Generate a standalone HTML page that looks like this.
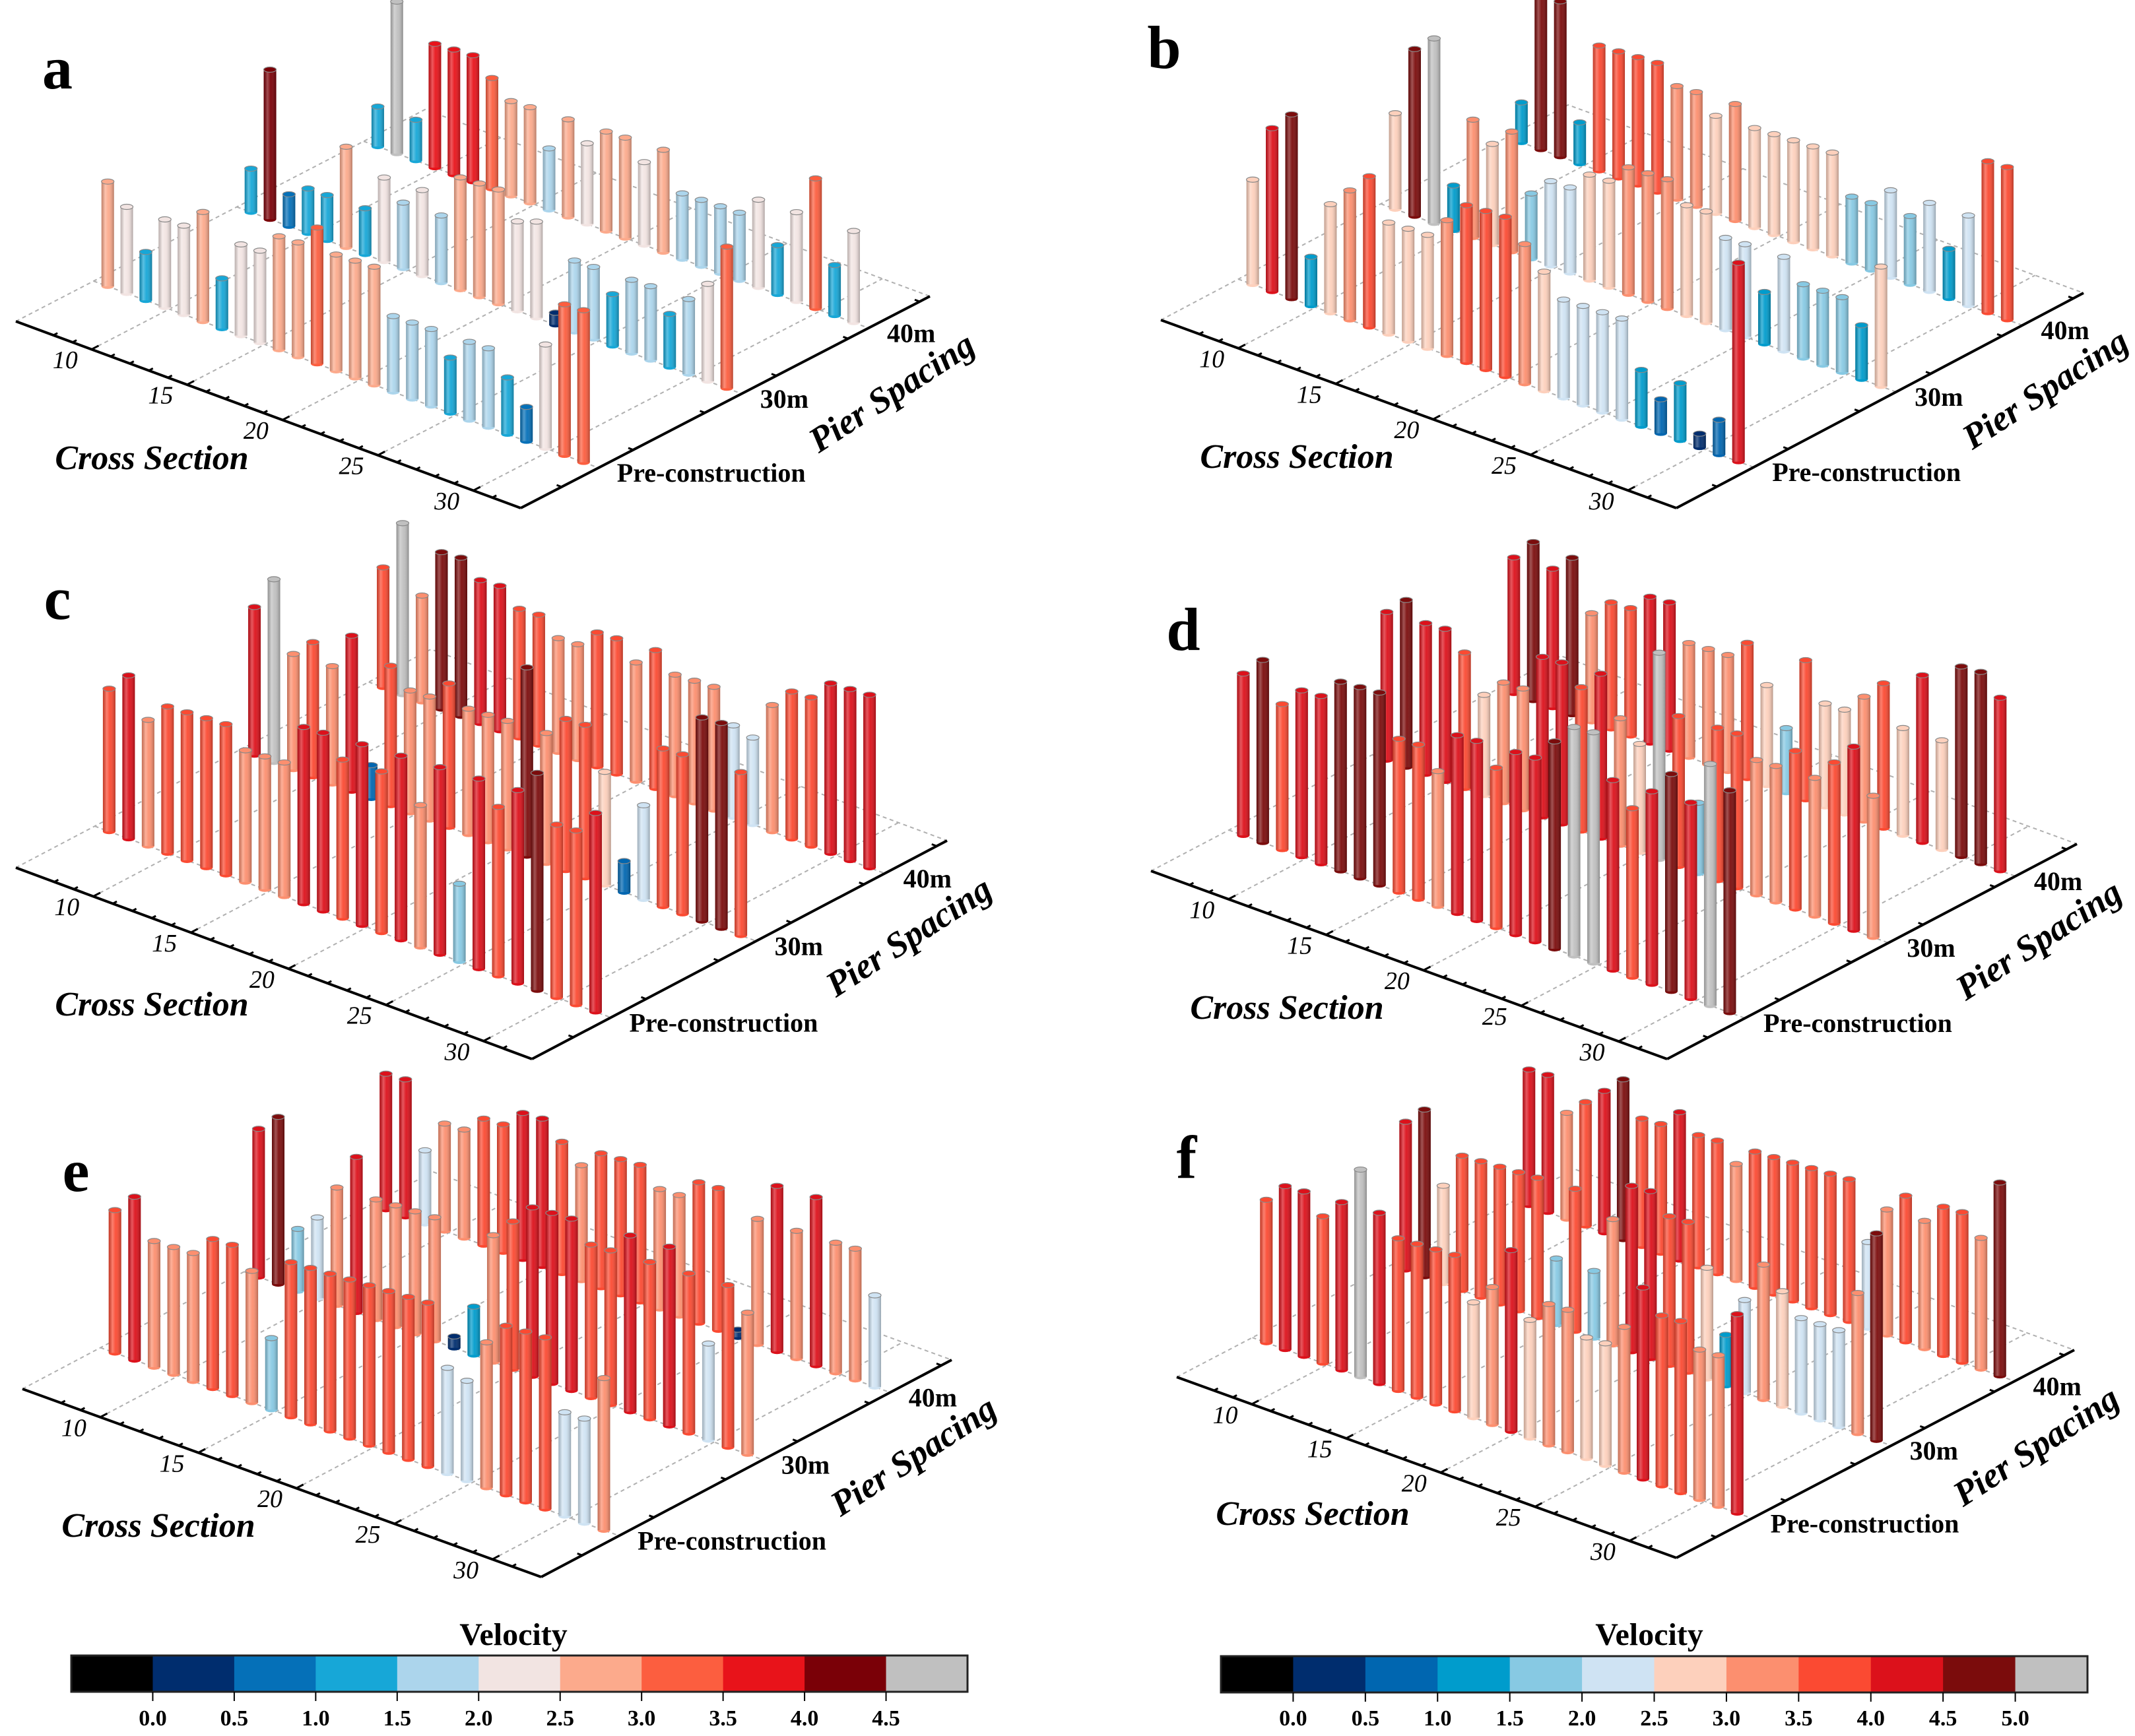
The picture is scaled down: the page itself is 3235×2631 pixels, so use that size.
<!DOCTYPE html>
<html><head><meta charset="utf-8">
<style>
html,body{margin:0;padding:0;background:#fff;}
svg{display:block;}
text{font-family:"Liberation Serif",serif;}
</style></head>
<body>
<svg id="fig" xmlns="http://www.w3.org/2000/svg" width="3235" height="2631" viewBox="0 0 3235 2631">
<defs>
<linearGradient id="shade" x1="0" x2="1" y1="0" y2="0">
<stop offset="0" stop-color="#000" stop-opacity="0.22"/>
<stop offset="0.3" stop-color="#fff" stop-opacity="0.3"/>
<stop offset="0.55" stop-color="#fff" stop-opacity="0.05"/>
<stop offset="1" stop-color="#000" stop-opacity="0.28"/>
</linearGradient>
</defs>
<g id="layer"></g>
</svg>
<script>
// ---- data ----
const crossSections = [7,8,9,10,11,12,13,14,15,16,17,18,19,20,21,22,23,24,25,26,27,28,29,30,31,32];
const pierLabels = ["Pre-construction","30m","40m"];
const csTicks = [10,15,20,25,30];
const cbTicksA = ["0.0","0.5","1.0","1.5","2.0","2.5","3.0","3.5","4.0","4.5"];
const cbTicksB = ["0.0","0.5","1.0","1.5","2.0","2.5","3.0","3.5","4.0","4.5","5.0"];

const aPre  = [2.75,2.25,1.25,2.25,2.25,2.75,1.25,2.25,2.25,2.75,2.75,3.25,2.75,2.75,2.75,1.75,1.75,1.75,1.25,1.75,1.75,1.25,0.75,2.25,3.25,3.25];
const aMid  = [1.25,4.25,0.9,1.25,1.25,2.75,1.25,2.25,1.75,2.25,1.75,2.9,2.9,2.9,2.25,2.4,0.3,1.75,1.75,1.25,1.75,1.75,1.25,1.75,2.25,3.25];
const aBack = [1.25,4.7,1.25,3.75,3.75,3.75,3.25,2.75,2.75,1.75,2.75,2.25,2.75,2.75,2.25,2.75,1.75,1.75,1.75,1.75,2.25,1.25,2.25,3.25,1.25,2.25];

const bPre  = [2.75,4.25,4.75,1.25,2.75,3.25,3.75,2.75,2.75,2.75,3.25,3.75,3.75,3.75,3.25,2.75,2.25,2.25,2.25,2.25,1.25,0.75,1.25,0.3,0.75,4.25];
const bMid  = [2.75,4.75,5.2,1.25,3.25,2.75,3.25,1.75,2.25,2.25,2.75,2.75,3.25,3.25,3.25,2.75,2.75,2.25,2.25,1.25,2.25,1.75,1.75,1.75,1.25,2.75];
const bBack = [1.25,4.75,4.75,1.25,3.75,3.75,3.75,3.75,3.25,3.25,2.75,3.25,2.75,2.75,2.75,2.75,2.75,1.75,1.75,2.25,1.75,2.25,1.25,2.25,3.75,3.75];

const cPre  = [3.75,4.25,3.25,3.75,3.75,3.75,3.75,3.25,3.25,3.25,4.25,4.25,3.75,4.25,3.75,4.25,3.25,4.25,1.75,4.25,3.75,4.25,4.75,3.75,3.75,4.25];
const cMid  = [4.25,5.2,3.25,3.75,3.25,4.25,0.9,3.75,3.25,3.25,3.75,3.25,3.25,3.25,4.75,3.25,3.75,3.75,2.75,0.75,2.25,3.75,3.75,4.75,4.75,3.75];
const cBack = [3.75,5.3,3.25,4.75,4.75,4.25,4.25,3.75,3.75,3.25,3.25,3.75,3.75,3.25,3.75,3.25,3.25,3.25,2.4,2.25,3.25,3.75,3.75,4.25,4.25,4.25];

const dPre  = [4.25,4.75,3.75,4.25,4.25,4.75,4.75,4.75,3.75,3.75,3.25,4.25,4.25,3.75,4.25,4.25,4.75,5.2,5.2,4.25,3.75,4.25,4.75,4.25,5.2,4.75];
const dMid  = [4.25,4.75,4.25,4.25,3.75,2.75,3.25,3.25,4.25,4.25,3.75,4.25,3.25,2.75,5.2,3.75,1.75,3.75,3.75,3.25,3.25,3.75,3.25,3.75,4.25,3.25];
const dBack = [4.25,4.9,4.25,4.75,3.25,3.75,3.75,4.25,4.25,3.25,3.25,3.25,3.75,2.75,1.75,3.75,2.75,2.75,3.25,3.75,2.75,4.25,2.75,4.75,4.75,4.25];

const ePre  = [3.75,4.25,3.25,3.25,3.25,3.75,3.75,3.25,1.75,3.75,3.75,3.75,3.75,3.75,3.75,3.75,3.75,2.4,2.25,3.25,3.75,3.75,3.75,2.25,2.25,3.25];
const eMid  = [4.25,4.75,1.75,2.25,3.25,4.25,3.25,3.25,3.25,3.25,0.3,1.25,3.25,3.75,4.25,4.25,4.25,3.75,3.75,4.25,3.75,4.25,3.75,2.25,3.75,3.25];
const eBack = [4.25,4.25,2.25,3.25,3.25,3.75,3.75,4.25,4.25,3.75,3.25,3.75,3.75,3.75,3.25,3.25,3.75,3.75,0.2,3.25,4.25,3.25,4.25,3.25,3.25,2.25];

const fPre  = [3.75,4.25,4.25,3.75,4.25,5.2,4.25,3.75,3.75,3.75,3.75,2.75,3.25,4.25,2.75,3.25,3.25,2.75,2.75,3.25,4.25,3.75,3.75,3.25,3.25,4.25];
const fMid  = [4.25,4.75,2.75,3.75,3.75,3.75,3.75,3.75,1.75,3.75,1.75,3.25,4.25,4.25,3.75,3.75,2.75,1.25,2.25,3.25,2.75,2.25,2.25,2.25,3.25,4.75];
const fBack = [4.25,4.25,3.25,3.75,4.25,4.75,3.75,3.75,4.25,3.75,3.75,3.25,3.75,3.75,3.75,3.75,3.75,3.75,2.25,3.25,3.75,3.25,3.75,3.75,3.25,4.75];

const colorsA = ['#000000','#002d6e','#0570b8','#17a7d7','#acd5ec','#f2e4e2','#fcaa8c','#fc5e3f','#e8131a','#7a0007','#c0c0c0'];
const colorsB = ['#000000','#002d6e','#0066b0','#009ccc','#87c9e3','#cfe3f3','#fdd0bc','#fc8f6f','#fb4a32','#dc111b','#7b0c0c','#c0c0c0'];

// ---- layout ----
const NS = "http://www.w3.org/2000/svg";
const layer = document.getElementById('layer');
function mk(tag, attrs, parent){
  const e = document.createElementNS(NS, tag);
  for (const k in attrs) e.setAttribute(k, attrs[k]);
  (parent||layer).appendChild(e);
  return e;
}
const panels = [
  {id:'a', L:[24,487],  F:[789,770],  R:[1409,449],  letter:[87,113],  cols:colorsA, rows:[aPre,aMid,aBack]},
  {id:'b', L:[1759,485],F:[2540,770], R:[3157,444],  letter:[1764,82], cols:colorsB, rows:[bPre,bMid,bBack]},
  {id:'c', L:[24,1315], F:[806,1605], R:[1435,1274], letter:[87,917], cols:colorsB, rows:[cPre,cMid,cBack]},
  {id:'d', L:[1744,1320],F:[2526,1605],R:[3147,1279],letter:[1793,964],cols:colorsB, rows:[dPre,dMid,dBack]},
  {id:'e', L:[34,2105], F:[820,2390], R:[1442,2061], letter:[115,1784],cols:colorsB, rows:[ePre,eMid,eBack]},
  {id:'f', L:[1783,2087],F:[2540,2361],R:[3143,2046],letter:[1798,1764],cols:colorsB, rows:[fPre,fMid,fBack]}
];
const rowV = [0.19, 0.54, 0.85];
const csU = c => 0.15 + (c - 10) * (0.906 - 0.15) / 20;
function colorFor(v, cols){
  let i = 1 + Math.floor(v / 0.5);
  if (v < 0) i = 0;
  return cols[Math.min(cols.length - 1, i)];
}

panels.forEach(p => {
  const g = mk('g', {});
  
  
  const [L, F, R] = [p.L, p.F, p.R];
  const A = [F[0]-L[0], F[1]-L[1]], Bv = [R[0]-F[0], R[1]-F[1]];
  const pt = (u, v) => [L[0] + u*A[0] + v*Bv[0], L[1] + u*A[1] + v*Bv[1]];
  const B = pt(0, 1), RR = pt(1, 1);
  const fl = mk('g', {stroke:'#b0b0b0', 'stroke-width':2, 'stroke-dasharray':'6,5', fill:'none'}, g);
  
  
  mk('polyline', {points:`${L[0]},${L[1]} ${B[0]},${B[1]} ${RR[0]},${RR[1]}`}, fl);
  csTicks.forEach(c => { const a = pt(csU(c), 0), b = pt(csU(c), 1); mk('line', {x1:a[0], y1:a[1], x2:b[0], y2:b[1]}, fl); });
  rowV.forEach(v => { const a = pt(0, v), b = pt(1, v); mk('line', {x1:a[0], y1:a[1], x2:b[0], y2:b[1]}, fl); });
  const ax = mk('g', {stroke:'#000', 'stroke-width':4, fill:'none'}, g);
  
  
  mk('line', {x1:L[0], y1:L[1], x2:F[0], y2:F[1]}, ax);
  mk('line', {x1:F[0], y1:F[1], x2:R[0], y2:R[1]}, ax);
  const bl = Math.hypot(Bv[0], Bv[1]), al = Math.hypot(A[0], A[1]);
  for (let c = 8; c <= 31; c++) {
    const a = pt(csU(c), 0); const len = (c % 5 === 0) ? 12 : 7;
    mk('line', {x1:a[0], y1:a[1], x2:a[0] + Bv[0]/bl*len, y2:a[1] + Bv[1]/bl*len, 'stroke-width':3}, ax);
  }
  for (let v = 0.1; v < 1; v += 0.175) {
    const a = pt(1, v);
    mk('line', {x1:a[0], y1:a[1], x2:a[0] - A[0]/al*8, y2:a[1] - A[1]/al*8, 'stroke-width':3}, ax);
  }
  csTicks.forEach(c => {
    const a = pt(csU(c), 0);
    const t = mk('text', {x:a[0] - 40, y:a[1] + 20, 'font-size':38, 'font-style':'italic', 'text-anchor':'middle', 'dominant-baseline':'middle'}, g);
    t.textContent = c;
    
    
  });
  pierLabels.forEach((lab, i) => {
    const a = pt(1, rowV[i]);
    const t = mk('text', {x:a[0] + 28, y:a[1] + 12, 'font-size':40, 'font-weight':'bold', 'dominant-baseline':'middle'}, g);
    t.textContent = lab;
    
    
  });
  const xt = mk('text', {x:L[0] + 206, y:L[1] + 212, 'font-size':52, 'font-weight':'bold', 'font-style':'italic', 'text-anchor':'middle', 'dominant-baseline':'middle'}, g);
  xt.textContent = 'Cross Section';
  
  
  const px = R[0] - 55, py = R[1] + 150;
  const yt = mk('text', {x:px, y:py, 'font-size':54, 'font-weight':'bold', 'font-style':'italic', 'text-anchor':'middle', 'dominant-baseline':'middle', transform:`rotate(-33 ${px} ${py})`}, g);
  yt.textContent = 'Pier Spacing';
  
  
  const bars = [];
  p.rows.forEach((row, ri) => {
    row.forEach((val, ci) => {
      const uu = 0.028 + (crossSections[ci] - crossSections[0]) * 0.0377;
      const v = rowV[ri];
      const base = pt(uu, v);
      const depth = (uu + 1 - v) / 2;
      const k = 46 + 28 * depth;
      bars.push({x:base[0], y:base[1], h:val * k, val, ri, ci});
    });
  });
  bars.sort((a, b) => a.y - b.y);
  const bg = mk('g', {}, g);
  
  
  const w = 19;
  bars.forEach(b => {
    const col = colorFor(b.val, p.cols);
    const bar = mk('g', {}, bg);
    
    
    mk('ellipse', {cx:b.x, cy:b.y, rx:w/2, ry:4, fill:col}, bar);
    mk('rect', {x:b.x - w/2, y:b.y - b.h, width:w, height:b.h, fill:col}, bar);
    mk('rect', {x:b.x - w/2, y:b.y - b.h, width:w, height:b.h, fill:'url(#shade)'}, bar);
    mk('ellipse', {cx:b.x, cy:b.y - b.h, rx:w/2, ry:4, fill:col, stroke:'#888', 'stroke-width':1.2}, bar);
  });
  const lt = mk('text', {x:p.letter[0], y:p.letter[1], 'font-size':92, 'font-weight':'bold', 'text-anchor':'middle', 'dominant-baseline':'middle'}, g);
  lt.textContent = p.id;
  
  
});

function colorbar(name, x0, x1, y0, y1, cols, ticks, titleX){
  const g = mk('g', {});
  
  
  const n = cols.length, cw = (x1 - x0) / n;
  cols.forEach((c, i) => mk('rect', {x:x0 + i*cw, y:y0, width:cw + 0.5, height:y1 - y0, fill:c}, g));
  mk('rect', {x:x0, y:y0, width:x1 - x0, height:y1 - y0, fill:'none', stroke:'#222', 'stroke-width':3}, g);
  ticks.forEach((t, i) => {
    const x = x0 + (i + 1) * cw;
    mk('line', {x1:x, y1:y1, x2:x, y2:y1 + 14, stroke:'#000', 'stroke-width':2}, g);
    const tx = mk('text', {x:x, y:2607, 'font-size':34, 'font-weight':'bold', 'text-anchor':'middle', 'dominant-baseline':'middle'}, g);
    tx.textContent = t;
    
    
  });
  const tt = mk('text', {x:titleX, y:2482, 'font-size':48, 'font-weight':'bold', 'text-anchor':'middle', 'dominant-baseline':'middle'}, g);
  tt.textContent = 'Velocity';
  
  
}
colorbar('colorbar-a', 108, 1466, 2509, 2564, colorsA, cbTicksA, 778);
colorbar('colorbar-b-f', 1850, 3163, 2510, 2565, colorsB, cbTicksB, 2499);
</script>
</body></html>
